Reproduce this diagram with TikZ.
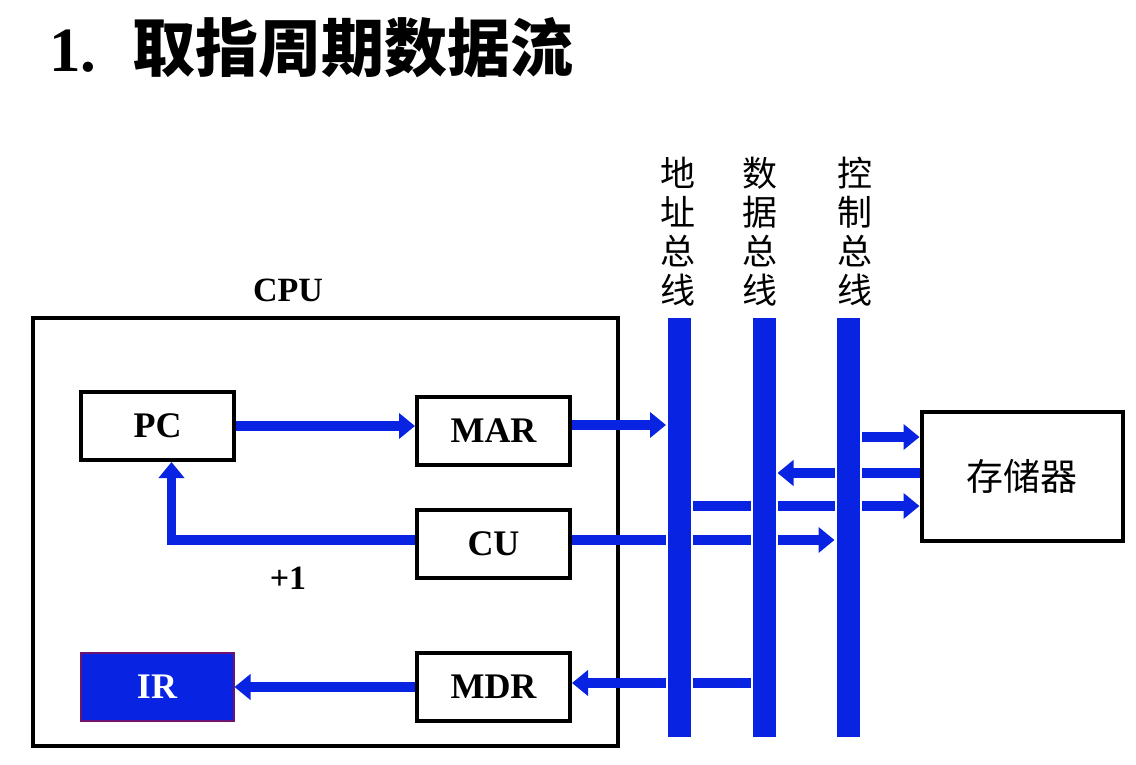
\documentclass[tikz,border=0pt]{standalone}
\usepackage{fontspec}
\setmainfont{Liberation Serif}
\newfontfamily\cjk{Noto Sans CJK SC}
\usepackage{xcolor}
\usepackage{tikz}
\usetikzlibrary{positioning, arrows.meta}
\pgfdeclarelayer{front}
\pgfsetlayers{main,front}
\definecolor{busblue}{RGB}{8,36,226}
\definecolor{irrim}{RGB}{110,20,110}

\begin{document}
\begin{tikzpicture}[x=1pt, y=-1pt,
    reg/.style={draw, line width=4pt, minimum width=153pt, minimum height=68pt, inner sep=0pt,
        font=\fontsize{36}{40}\selectfont\bfseries},
    bus/.style={fill=busblue, draw=white, line width=2pt, minimum width=25pt, minimum height=421pt, inner sep=0pt},
    buslabel/.style={align=center, inner sep=0pt, font=\cjk\fontsize{35}{39}\selectfont},
    flow/.style={busblue, line width=9.5pt, -{Triangle[length=16pt, width=25pt]}}]
    \useasboundingbox (0,0) rectangle (1136,765);

    % title
    \node[anchor=west, inner sep=0pt] (title) at (49,48)
        {\fontsize{63}{64}\selectfont\bfseries 1.\hspace{36pt}\cjk 取指周期数据流};

    % CPU and its registers
    \node[draw, line width=4pt, minimum width=585pt, minimum height=428pt] (cpu) at (325.5,532) {};
    \node[font=\fontsize{34}{40}\selectfont\bfseries] (cpulabel) at (288,290) {CPU};
    \node[reg] (PC) at (157.5,426) {PC};
    \node[reg] (MAR) at (493.5,431) {MAR};
    \node[reg] (CU) at (493.5,544) {CU};
    \node[reg] (MDR) at (493.5,687) {MDR};
    \node[reg, fill=busblue, draw=irrim, line width=2pt, text=white] (IR) at (157,687) {IR};
    \node[font=\fontsize{34}{40}\selectfont\bfseries] (inc) at (288,578) {+1};

    % memory
    \node[draw, line width=4pt, minimum width=201pt, minimum height=129pt, font=\cjk\fontsize{37}{40}\selectfont] (mem) at (1022,476) {存储器};

    % buses (in front of the arrows)
    \begin{pgfonlayer}{front}
    \node[bus] (abus) at (679.5,527.5) {};
    \node[bus] (dbus) at (764,527.5) {};
    \node[bus] (cbus) at (848,527.5) {};
    \end{pgfonlayer}
    \node[buslabel, anchor=south] (alabel) at ([xshift=-2pt, yshift=10pt]abus.north) {地\\址\\总\\线};
    \node[buslabel, anchor=south] (dlabel) at ([xshift=-4pt, yshift=10pt]dbus.north) {数\\据\\总\\线};
    \node[buslabel, anchor=south] (clabel) at ([xshift=7pt, yshift=10pt]cbus.north) {控\\制\\总\\线};

    % rows at the memory side
    \coordinate (rc) at ([yshift=39pt]mem.west);
    \coordinate (rr) at ([yshift=3pt]mem.west);
    \coordinate (rd) at ([yshift=-30pt]mem.west);
    \coordinate (rm) at ([yshift=4pt]MDR.east);

    % data flow
    \draw[flow] (PC.east) -- (PC.east -| MAR.west);
    \draw[flow] ([yshift=6pt]MAR.east) -- ([yshift=6pt]MAR.east -| abus.west);
    \draw[flow] ([yshift=4pt]CU.west) -| ([xshift=14pt]PC.south);
    \draw[flow] ([yshift=4pt]CU.east) -- ([yshift=4pt]CU.east -| cbus.west);
    \draw[flow] (rc -| cbus.east) -- (rc);
    \draw[flow] (rr) -- (rr -| dbus.east);
    \draw[flow] (rd -| abus.east) -- (rd);
    \draw[flow] (rm -| dbus.west) -- (rm);
    \draw[flow] (MDR.west) -- (IR.east);
\end{tikzpicture}
\end{document}
